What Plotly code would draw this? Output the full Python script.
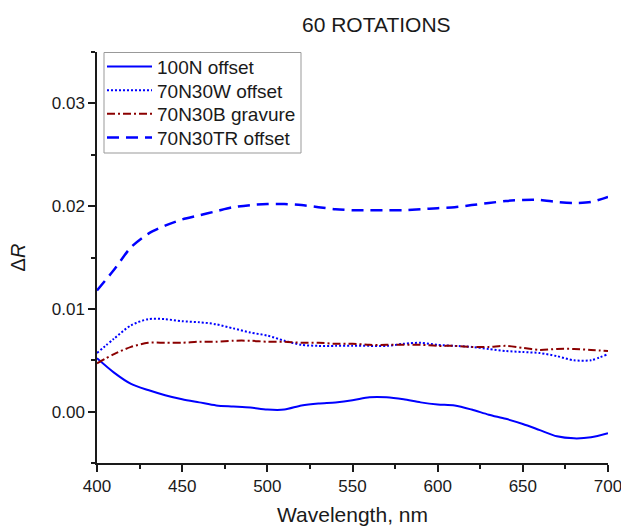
import plotly.graph_objects as go

wavelength = [400, 410, 420, 430, 440, 450, 460, 470, 480, 490, 500, 510, 520, 530, 540,
              550, 560, 570, 580, 590, 600, 610, 620, 630, 640, 650, 660, 670, 680, 690, 700]

n100_offset = [0.0052, 0.0038, 0.0027, 0.0021, 0.0016, 0.0012, 0.0009, 0.0006, 0.0005, 0.0004,
               0.0002, 0.0002, 0.0006, 0.0008, 0.0009, 0.0011, 0.0014, 0.0014, 0.0012, 0.0009,
               0.0007, 0.0006, 0.0002, -0.0003, -0.0007, -0.0012, -0.0018, -0.0024, -0.0026,
               -0.0025, -0.0021]

n70w30_offset = [0.0057, 0.0071, 0.0084, 0.0090, 0.0090, 0.0088, 0.0087, 0.0085, 0.0081, 0.0077,
                 0.0074, 0.0069, 0.0065, 0.0064, 0.0064, 0.0064, 0.0064, 0.0064, 0.0066, 0.0067,
                 0.0065, 0.0064, 0.0063, 0.0061, 0.0059, 0.0058, 0.0057, 0.0054, 0.0050, 0.0050,
                 0.0056]

n70b30_gravure = [0.0047, 0.0056, 0.0063, 0.0067, 0.0067, 0.0067, 0.0068, 0.0068, 0.0069, 0.0069,
                  0.0068, 0.0068, 0.0067, 0.0067, 0.0066, 0.0066, 0.0065, 0.0065, 0.0065, 0.0065,
                  0.0064, 0.0064, 0.0063, 0.0063, 0.0064, 0.0062, 0.0060, 0.0061, 0.0061, 0.0060,
                  0.0059]

n70tr30_offset = [0.0118, 0.0138, 0.0160, 0.0173, 0.0181, 0.0187, 0.0191, 0.0195, 0.0199, 0.0201,
                  0.0202, 0.0202, 0.0201, 0.0199, 0.0197, 0.0196, 0.0196, 0.0196, 0.0196, 0.0197,
                  0.0198, 0.0199, 0.0201, 0.0203, 0.0205, 0.0206, 0.0206, 0.0204, 0.0203, 0.0204,
                  0.0209]

series_names = ["100N offset", "70N30W offset", "70N30B gravure", "70N30TR offset"]
x_ticks = [400, 450, 500, 550, 600, 650, 700]
y_ticks = [0.00, 0.01, 0.02, 0.03]
y_tick_labels = ["0.00", "0.01", "0.02", "0.03"]

BLUE = "#0000ff"
WINE = "#8b0000"

# figure geometry (pixels)
W, H = 621, 527
ML, MR, MT, MB = 97, 13, 52, 64
PW, PH = W - ML - MR, H - MT - MB

def px_x(p):
    return (p - ML) / PW

def px_y(p):
    return (H - MB - p) / PH

legend_ids = ["legend", "legend2", "legend3", "legend4"]
legend_rows_px = [66.7, 90.3, 114.0, 137.7]

fig = go.Figure()
fig.add_trace(go.Scatter(x=wavelength, y=n100_offset, name=series_names[0], mode="lines",
                         legend=legend_ids[0],
                         line=dict(color=BLUE, width=2, shape="spline", smoothing=0.8)))
fig.add_trace(go.Scatter(x=wavelength, y=n70w30_offset, name=series_names[1], mode="lines",
                         legend=legend_ids[1],
                         line=dict(color=BLUE, width=2, dash="2px,2px", shape="spline", smoothing=0.8)))
fig.add_trace(go.Scatter(x=wavelength, y=n70b30_gravure, name=series_names[2], mode="lines",
                         legend=legend_ids[2],
                         line=dict(color=WINE, width=2, dash="8px,3px,2px,3px", shape="spline", smoothing=0.8)))
fig.add_trace(go.Scatter(x=wavelength, y=n70tr30_offset, name=series_names[3], mode="lines",
                         legend=legend_ids[3],
                         line=dict(color=BLUE, width=2.5, dash="12px,7px", shape="spline", smoothing=0.8)))

font_family = "Liberation Sans, Arial, sans-serif"
INK = "#1a1a1a"

legend_layout = {}
for lid, row in zip(legend_ids, legend_rows_px):
    legend_layout[lid] = dict(x=px_x(102), y=px_y(row), xanchor="left", yanchor="middle",
                              bgcolor="rgba(0,0,0,0)", borderwidth=0,
                              font=dict(size=19, color=INK), itemwidth=45)

fig.update_layout(
    width=W, height=H,
    margin=dict(l=ML, r=MR, t=MT, b=MB),
    paper_bgcolor="white", plot_bgcolor="white",
    font=dict(family=font_family, size=17, color=INK),
    title=dict(text="60 ROTATIONS", x=0.606, xref="container", xanchor="center",
               y=0.9526, yref="container", yanchor="middle",
               font=dict(size=21, color=INK)),
    showlegend=True,
    **legend_layout,
    shapes=[dict(type="rect", xref="paper", yref="paper",
                 x0=px_x(104), x1=px_x(301), y0=px_y(153), y1=px_y(52.5),
                 line=dict(color="#999999", width=1), fillcolor="white", layer="below")],
    xaxis=dict(range=[400, 700], tickvals=x_ticks, ticktext=[str(v) for v in x_ticks],
               automargin=False, ticklabeloverflow="allow",
               showgrid=False, zeroline=False, showline=True, linecolor=INK, linewidth=1.5,
               ticks="outside", ticklen=7, tickwidth=1.5, tickcolor=INK,
               minor=dict(dtick=25, ticks="outside", ticklen=4, tickwidth=1.5, tickcolor=INK, showgrid=False),
               title=dict(text="Wavelength, nm", font=dict(size=21), standoff=12),
               tickfont=dict(size=17)),
    yaxis=dict(range=[-0.005, 0.035], tickvals=y_ticks, ticktext=y_tick_labels,
               automargin=False, ticklabeloverflow="allow",
               showgrid=False, zeroline=False, showline=True, linecolor=INK, linewidth=1.5,
               ticks="outside", ticklen=7, tickwidth=1.5, tickcolor=INK,
               minor=dict(dtick=0.005, ticks="outside", ticklen=4, tickwidth=1.5, tickcolor=INK, showgrid=False),
               title=dict(text="Δ<i>R</i>", font=dict(size=20), standoff=21),
               tickfont=dict(size=17)),
)

fig.write_html("out.html", config={"displayModeBar": False},
               post_script="document.body.style.margin='0';")
